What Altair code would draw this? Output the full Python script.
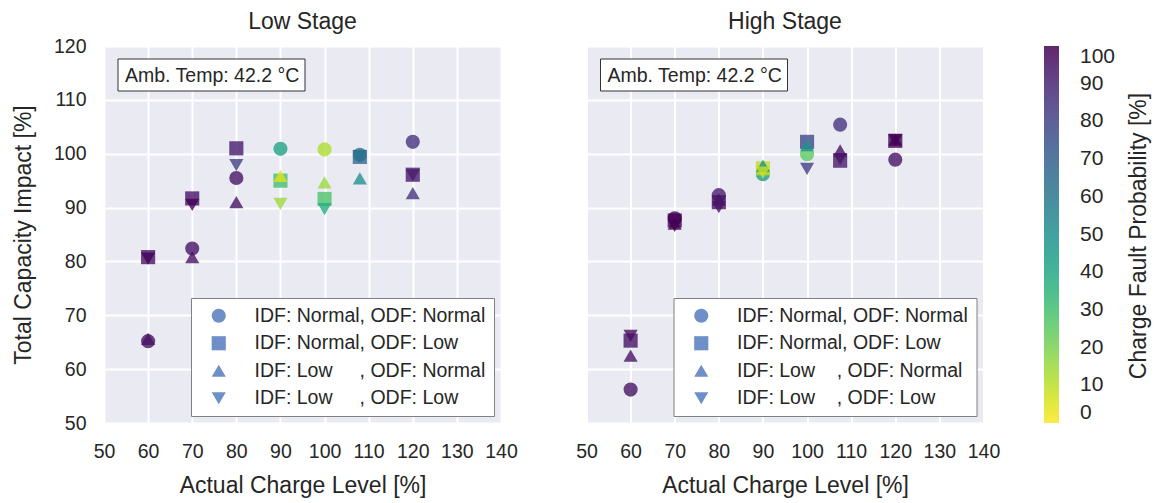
import altair as alt
import pandas as pd

FONT = "Liberation Sans"
TXT = "#262626"

# ---------------- data ----------------
charge_low = [60, 70, 80, 90, 100, 108, 120]
charge_high = [60, 70, 80, 90, 100, 107.5, 120]

# Low stage: capacity impact [%] and fault probability [%]
low_nn_cap = [65.2, 82.4, 95.5, 100.9, 100.8, 99.8, 102.2]
low_nn_prob = [95, 95, 95, 42, 12, 62, 85]
low_nl_cap = [80.8, 91.7, 101.0, 95.0, 91.6, 99.4, 96.1]
low_nl_prob = [95, 95, 93, 30, 28, 65, 93]
low_ln_cap = [65.6, 80.8, 91.0, 95.9, 94.7, 95.4, 92.7]
low_ln_prob = [95, 95, 95, 5, 15, 50, 85]
low_ll_cap = [80.5, 90.5, 97.9, 90.7, 89.7, 99.5, 96.0]
low_ll_prob = [100, 100, 82, 15, 38, 62, 93]

# High stage
high_nn_cap = [56.2, 88.0, 92.3, 96.2, 99.9, 105.4, 98.9]
high_nn_prob = [95, 100, 92, 45, 25, 85, 95]
high_nl_cap = [65.3, 87.6, 91.0, 97.3, 102.2, 98.7, 102.4]
high_nl_prob = [95, 100, 95, 10, 78, 93, 100]
high_ln_cap = [62.5, 87.0, 91.5, 97.8, 101.6, 100.6, 102.6]
high_ln_prob = [95, 100, 95, 50, 50, 95, 100]
high_ll_cap = [66.2, 86.6, 90.1, 96.5, 97.2, 99.0, 102.5]
high_ll_prob = [97, 100, 95, 8, 82, 95, 100]

NB = "\u00a0"
labels_low = ["IDF: Normal, ODF: Normal", "IDF: Normal, ODF: Low",
              "IDF: Low" + NB * 5 + ", ODF: Normal", "IDF: Low" + NB * 5 + ", ODF: Low"]
labels_high = ["IDF: Normal, ODF: Normal", "IDF: Normal, ODF: Low",
               "IDF: Low" + NB * 4 + ", ODF: Normal", "IDF: Low" + NB * 4 + ", ODF: Low"]
shapes = ["circle", "square", "triangle-up", "triangle-down"]

ticks_x = list(range(50, 141, 10))
ticks_y = list(range(50, 121, 10))
ticks_c = list(range(0, 101, 10))
annot = "Amb. Temp: 42.2 °C"
cbar_title = "Charge Fault Probability [%]"


def build(charge, caps, probs, labels):
    rows = []
    for lab, cap, prob in zip(labels, caps, probs):
        for x, y, p in zip(charge, cap, prob):
            rows.append({"charge": x, "cap": y, "prob": p, "cfg": lab})
    return pd.DataFrame(rows)


df_low = build(charge_low, [low_nn_cap, low_nl_cap, low_ln_cap, low_ll_cap],
               [low_nn_prob, low_nl_prob, low_ln_prob, low_ll_prob], labels_low)
df_high = build(charge_high, [high_nn_cap, high_nl_cap, high_ln_cap, high_ll_cap],
                [high_nn_prob, high_nl_prob, high_ln_prob, high_ll_prob], labels_high)

color_scale = alt.Scale(scheme="viridis", domain=[0, 100], reverse=True)
color_legend = alt.Legend(
    orient="right", offset=-107.5, direction="vertical", gradientLength=377,
    gradientThickness=15, values=ticks_c, labelFontSize=21, labelOffset=21,
    labelColor=TXT, labelFont=FONT, labelOverlap=False, labelBaseline="middle",
    title=None, gradientStrokeWidth=0, padding=0, gradientOpacity=0.85,
)


def panel(df, labels, title, show_y, title_offset, extra=None):
    shape_legend = alt.Legend(
        orient="bottom-right", offset=7, title=None, fillColor="white",
        strokeColor="#808080", padding=8, labelFontSize=19.5, labelFont=FONT,
        labelColor=TXT, symbolSize=200, rowPadding=6.5, labelOffset=26,
        symbolOffset=10, symbolFillColor="#6f8fc9", symbolStrokeColor="#6f8fc9",
        symbolStrokeWidth=0, symbolOpacity=1, cornerRadius=0, labelLimit=400,
    )
    if show_y:
        yaxis = alt.Axis(values=ticks_y, title="Total Capacity Impact [%]",
                         labelPadding=18, titlePadding=18, labelOverlap=False)
    else:
        yaxis = alt.Axis(values=ticks_y, labels=False, title=None)
    pts = alt.Chart(df).mark_point(filled=True, opacity=0.8, size=200).encode(
        x=alt.X("charge:Q", scale=alt.Scale(domain=[50, 140], nice=False),
                axis=alt.Axis(values=ticks_x, title="Actual Charge Level [%]",
                              labelPadding=19, titlePadding=14, labelOverlap=False,
                              labelFlush=False)),
        y=alt.Y("cap:Q", scale=alt.Scale(domain=[50, 120], nice=False), axis=yaxis),
        color=alt.Color("prob:Q", scale=color_scale, legend=color_legend),
        shape=alt.Shape("cfg:N", scale=alt.Scale(domain=labels, range=shapes),
                        sort=labels, legend=shape_legend),
    )
    adf = pd.DataFrame({"t": [annot]})
    box = alt.Chart(adf).mark_rect(fill="white", stroke="#333333", strokeWidth=1).encode(
        x=alt.value(14), x2=alt.value(201), y=alt.value(13), y2=alt.value(45))
    txt = alt.Chart(adf).mark_text(align="left", baseline="middle", fontSize=19.5,
                                   font=FONT, color=TXT).encode(
        x=alt.value(21), y=alt.value(29.5), text="t:N")
    layers = [pts, box, txt]
    if extra is not None:
        layers.append(extra)
    return alt.layer(*layers).properties(
        width=397, height=377,
        title=alt.TitleParams(title, fontSize=23, fontWeight="normal", font=FONT,
                              color=TXT, offset=title_offset),
    )


cdf = pd.DataFrame({"t": [cbar_title]})
cbar_txt = alt.Chart(cdf).mark_text(angle=270, align="center", baseline="middle",
                                    fontSize=23, font=FONT, color=TXT).encode(
    x=alt.value(552), y=alt.value(190), text="t:N")

chart = alt.hconcat(
    panel(df_low, labels_low, "Low Stage", True, 2.5),
    panel(df_high, labels_high, "High Stage", False, 12, cbar_txt),
    spacing=57.5,
).resolve_scale(shape="independent", color="shared").resolve_legend(
    shape="independent", color="shared"
).configure_view(fill="#EAEAF2", stroke=None).configure_axis(
    domain=False, ticks=False, grid=True, gridColor="white", gridWidth=2,
    labelFontSize=19.5, labelFont=FONT, labelColor=TXT, titleFontSize=23,
    titleFont=FONT, titleColor=TXT, titleFontWeight="normal",
).properties(
    padding={"left": 12, "top": 10, "right": 1, "bottom": 0},
    background="white",
)

chart.save("out.html", embed_options={"renderer": "svg", "actions": False})
